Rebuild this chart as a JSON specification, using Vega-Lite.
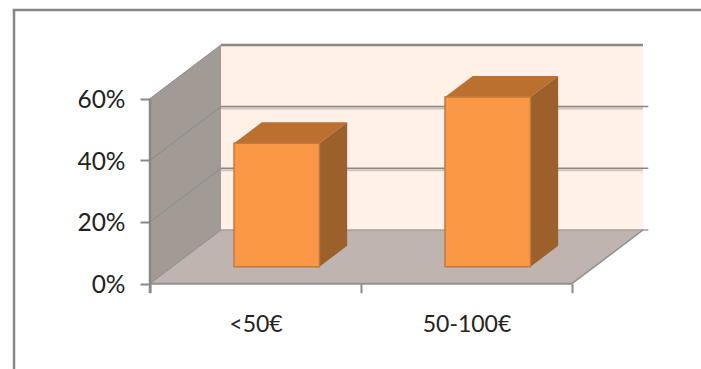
{
  "$schema": "https://vega.github.io/schema/vega-lite/v6.json",
  "width": 701,
  "height": 369,
  "padding": 0,
  "autosize": {"type": "none"},
  "background": "#ffffff",
  "config": {"view": {"stroke": null}},
  "datasets": {
    "bars": [
      {"range": "<50€", "slot": 0, "share": 40},
      {"range": "50-100€", "slot": 1, "share": 55}
    ],
    "walls": [{"depth": 0}, {"depth": 1}],
    "levels": [{"level": 0}, {"level": 20}, {"level": 40}, {"level": 60}]
  },
  "encoding": {
    "x": {
      "type": "quantitative",
      "scale": {"domain": [-0.7109, 2.6114], "nice": false, "zero": false},
      "axis": {
        "orient": "bottom", "offset": -85.3, "title": null, "domain": false, "grid": false,
        "values": [0, 0.5, 1, 1.5, 2],
        "labelExpr": "datum.value === 0.5 ? '<50€' : datum.value === 1.5 ? '50-100€' : ''",
        "tickSize": 9, "tickWidth": 2, "tickColor": "#888888",
        "tickOpacity": {"condition": {"test": "datum.value === 0.5 || datum.value === 1.5", "value": 0}, "value": 1},
        "labelFont": "Lato", "labelFontSize": 23, "labelColor": "#222222", "labelPadding": 21,
        "labelOverlap": false, "labelFlush": false, "labelBound": false
      }
    },
    "y": {
      "type": "quantitative",
      "scale": {"domain": [-27.65, 91.96], "nice": false, "zero": false},
      "axis": {
        "orient": "left", "offset": -150, "title": null, "domain": false, "grid": false,
        "values": [0, 20, 40, 60],
        "labelExpr": "datum.value + '%'",
        "tickSize": 10, "tickWidth": 2, "tickColor": "#888888",
        "labelFont": "Lato", "labelFontSize": 24.5, "labelColor": "#222222", "labelPadding": 15,
        "labelOffset": 2,
        "labelOverlap": false, "labelBound": false
      }
    }
  },
  "layer": [
    {
      "description": "Left edge of the chart frame",
      "data": {"values": [{"edge": "left"}]},
      "mark": {"type": "rule", "color": "#888888", "strokeWidth": 2.5},
      "encoding": {
        "x": {"datum": -0.6445},
        "y": {"datum": 88.7},
        "y2": {"datum": -27.65}
      }
    },
    {
      "description": "Top edge of the chart frame",
      "data": {"values": [{"edge": "top"}]},
      "mark": {"type": "rule", "color": "#888888", "strokeWidth": 2.5},
      "encoding": {
        "x": {"datum": -0.6505},
        "x2": {"datum": 2.6114},
        "y": {"datum": 88.7}
      }
    },
    {
      "description": "Back wall",
      "data": {"values": [{"wall": "back"}]},
      "mark": {"type": "rect", "fill": "#FFF0E8"},
      "encoding": {
        "x": {"datum": 0.3365},
        "x2": {"datum": 2.3365},
        "y": {"datum": 17.4},
        "y2": {"datum": 77.4}
      }
    },
    {
      "description": "Side wall",
      "data": {"name": "walls"},
      "transform": [
        {"calculate": "datum.depth * 0.3365", "as": "wx"},
        {"calculate": "datum.depth * 17.4", "as": "wy"},
        {"calculate": "datum.wy + 60", "as": "wy2"}
      ],
      "mark": {"type": "area", "fill": "#A29A94", "orient": "vertical"},
      "encoding": {
        "x": {"field": "wx", "type": "quantitative"},
        "y": {"field": "wy", "type": "quantitative"},
        "y2": {"field": "wy2"}
      }
    },
    {
      "description": "Floor",
      "data": {"name": "walls"},
      "transform": [
        {"calculate": "datum.depth * 0.3365", "as": "wx"},
        {"calculate": "datum.wx + 2", "as": "wx2"},
        {"calculate": "datum.depth * 17.4", "as": "wy"}
      ],
      "mark": {"type": "area", "fill": "#BFB4AF", "orient": "horizontal"},
      "encoding": {
        "x": {"field": "wx", "type": "quantitative"},
        "x2": {"field": "wx2"},
        "y": {"field": "wy", "type": "quantitative"}
      }
    },
    {
      "description": "Soft shadow under the back gridlines",
      "data": {"name": "levels"},
      "transform": [
        {"filter": "datum.level === 20 || datum.level === 40"},
        {"calculate": "datum.level + 17.4", "as": "by"}
      ],
      "mark": {"type": "rule", "color": "#CFC4BE", "strokeWidth": 2, "yOffset": 2},
      "encoding": {
        "x": {"datum": 0.3365},
        "x2": {"datum": 2.3365},
        "y": {"field": "by", "type": "quantitative"}
      }
    },
    {
      "description": "Gridlines across the back wall",
      "data": {"name": "levels"},
      "transform": [
        {"filter": "datum.level === 20 || datum.level === 40"},
        {"calculate": "datum.level + 17.4", "as": "by"}
      ],
      "mark": {"type": "rule", "strokeWidth": 1.5, "color": "#8C8886"},
      "encoding": {
        "x": {"datum": 0.3365},
        "x2": {"datum": 2.3615},
        "y": {"field": "by", "type": "quantitative"}
      }
    },
    {
      "description": "Top edge of the back wall",
      "data": {"values": [{"edge": "wallTop"}]},
      "mark": {"type": "rule", "strokeWidth": 2.5, "color": "#8C8886"},
      "encoding": {
        "x": {"datum": 0.3365},
        "x2": {"datum": 2.3365},
        "y": {"datum": 77.4}
      }
    },
    {
      "description": "Back edge of the floor",
      "data": {"values": [{"edge": "floorBack"}]},
      "mark": {"type": "rule", "strokeWidth": 1.5, "color": "#A89E99"},
      "encoding": {
        "x": {"datum": 0.3365},
        "x2": {"datum": 2.3615},
        "y": {"datum": 17.4}
      }
    },
    {
      "description": "Gridlines running along the side wall",
      "data": {"name": "levels"},
      "transform": [{"calculate": "datum.level + 17.4", "as": "by"}],
      "mark": {"type": "rule", "strokeWidth": 1, "color": "#8C8A8A"},
      "encoding": {
        "x": {"datum": 0},
        "x2": {"datum": 0.3365},
        "y": {"field": "level", "type": "quantitative"},
        "y2": {"field": "by"}
      }
    },
    {
      "description": "Front floor edge",
      "data": {"values": [{"edge": "front"}]},
      "mark": {"type": "rule", "color": "#909090", "strokeWidth": 2},
      "encoding": {
        "x": {"datum": 0},
        "x2": {"datum": 2},
        "y": {"datum": 0}
      }
    },
    {
      "description": "Right floor edge",
      "data": {"values": [{"edge": "right"}]},
      "mark": {"type": "rule", "color": "#909090", "strokeWidth": 1.5},
      "encoding": {
        "x": {"datum": 2},
        "x2": {"datum": 2.3365},
        "y": {"datum": 0},
        "y2": {"datum": 17.4}
      }
    },
    {
      "description": "Value axis line",
      "data": {"values": [{"edge": "axis"}]},
      "mark": {"type": "rule", "color": "#888888", "strokeWidth": 2.5},
      "encoding": {
        "x": {"datum": 0},
        "y": {"datum": -3},
        "y2": {"datum": 60}
      }
    },
    {
      "description": "Top face of each bar",
      "data": {"name": "bars"},
      "transform": [
        {"calculate": "[0.317, 0.707]", "as": "depth"},
        {"flatten": ["depth"]},
        {"calculate": "datum.slot + 0.2915 + datum.depth * 0.3365", "as": "tx"},
        {"calculate": "datum.tx + 0.405", "as": "tx2"},
        {"calculate": "datum.share + datum.depth * 17.4", "as": "ty"}
      ],
      "mark": {"type": "area", "fill": "#BB7030", "orient": "horizontal"},
      "encoding": {
        "detail": {"field": "range"},
        "x": {"field": "tx", "type": "quantitative"},
        "x2": {"field": "tx2"},
        "y": {"field": "ty", "type": "quantitative"}
      }
    },
    {
      "description": "Right face of each bar",
      "data": {"name": "bars"},
      "transform": [
        {"calculate": "[0.317, 0.707]", "as": "depth"},
        {"flatten": ["depth"]},
        {"calculate": "datum.slot + 0.6965 + datum.depth * 0.3365", "as": "sx"},
        {"calculate": "datum.depth * 17.4", "as": "sy"},
        {"calculate": "datum.share + datum.sy", "as": "sy2"}
      ],
      "mark": {"type": "area", "fill": "#9C602B", "orient": "vertical"},
      "encoding": {
        "detail": {"field": "range"},
        "x": {"field": "sx", "type": "quantitative"},
        "y": {"field": "sy", "type": "quantitative"},
        "y2": {"field": "sy2"}
      }
    },
    {
      "description": "Front face of each bar",
      "data": {"name": "bars"},
      "transform": [
        {"calculate": "datum.slot + 0.2915 + 0.317 * 0.3365", "as": "fx"},
        {"calculate": "datum.fx + 0.405", "as": "fx2"},
        {"calculate": "0.317 * 17.4", "as": "fy"},
        {"calculate": "datum.share + datum.fy", "as": "fy2"}
      ],
      "mark": {"type": "rect", "fill": "#FB9846", "stroke": "#BF7B3E", "strokeWidth": 1.5},
      "encoding": {
        "x": {"field": "fx", "type": "quantitative"},
        "x2": {"field": "fx2"},
        "y": {"field": "fy", "type": "quantitative"},
        "y2": {"field": "fy2"}
      }
    }
  ]
}
